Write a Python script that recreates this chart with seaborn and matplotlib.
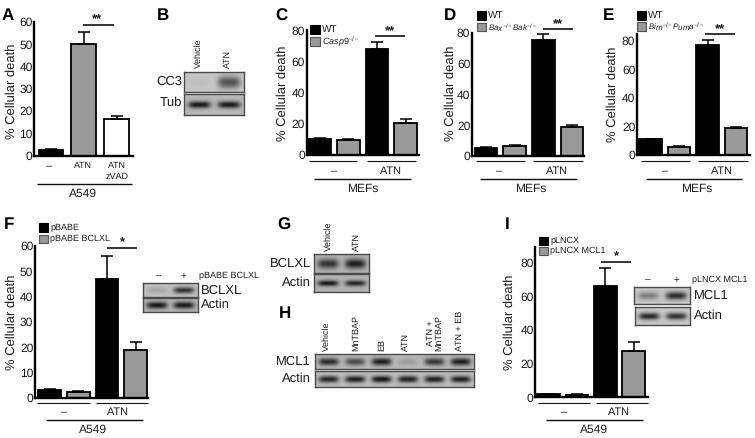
import numpy as np
import seaborn as sns
import matplotlib.pyplot as plt
from matplotlib.patches import Rectangle

sns.set_theme(style='white')
plt.rcParams['font.family'] = ['Liberation Sans', 'DejaVu Sans']
plt.rcParams['mathtext.fontset'] = 'custom'
plt.rcParams['mathtext.it'] = 'Liberation Sans:italic'
plt.rcParams['mathtext.rm'] = 'Liberation Sans'
plt.rcParams['text.hinting'] = 'none'
plt.rcParams['text.hinting_factor'] = 1

W, H = 755, 438
TXT = '#1c1c1c'
GRAY = '#999999'

# bar data
a_names = ['-', 'ATN', 'ATN zVAD']
a_vals = [2.5, 50, 16.5]
a_errs = [0.5, 5.5, 1.2]
four = ['ctrl', 'ctrl2', 'atn', 'atn2']
c_vals = [10, 9.5, 68, 20.5]
c_errs = [0.7, 1.0, 4.8, 2.5]
d_vals = [5, 6.5, 75.2, 18.5]
d_errs = [0.6, 0.8, 4.0, 1.6]
e_vals = [11, 5.5, 77, 19]
e_errs = [0.5, 0.7, 3.8, 0.4]
f_vals = [3, 2.2, 47, 19]
f_errs = [0.5, 0.5, 9, 3]
i_vals = [1.7, 1.3, 66, 27.5]
i_errs = [0.2, 0.4, 10.5, 5]

# blot band strengths per lane
b_cc3 = [0.03, 0.45]
b_tub = [0.62, 0.62]
f_bclxl = [0.1, 0.55]
f_actin = [0.6, 0.6]
g_bclxl = [0.5, 0.58]
g_actin = [0.6, 0.55]
h_mcl1 = [0.55, 0.42, 0.6, 0.1, 0.5, 0.6]
h_actin = [0.6, 0.62, 0.66, 0.62, 0.62, 0.62]
i_mcl1 = [0.28, 0.6]
i_actin = [0.62, 0.58]

fig = plt.figure(figsize=(W / 100, H / 100), dpi=100)
bg = fig.add_axes([0, 0, 1, 1])
bg.set_xlim(0, W)
bg.set_ylim(H, 0)
bg.axis('off')


def bars(vals, errs, names, colors, left, right, y0, ytop, ycal, calmax, ticks, first, step, frac):
    ax = fig.add_axes([left / W, 1 - y0 / H, (right - left) / W, (y0 - ytop) / H])
    ax.patch.set_alpha(0)
    sns.barplot(x=names, y=vals, hue=names, palette=colors, legend=False, width=frac,
                edgecolor='black', linewidth=1.3, errorbar=None, ax=ax)
    pos = np.arange(len(vals))
    ax.errorbar(pos, vals, yerr=[np.zeros(len(vals)), errs], fmt='none', ecolor='black',
                elinewidth=1.1, capsize=4.5, capthick=1.1, clip_on=False)
    ax.set_xlim((left - first) / step, (right - first) / step)
    ax.set_ylim(0, calmax * (y0 - ytop) / (y0 - ycal))
    ax.set_xticks([])
    ax.set_yticks(ticks)
    ax.tick_params(axis='y', length=0, pad=1, labelsize=8.7, labelcolor=TXT)
    ax.set_xlabel('')
    ax.set_ylabel('')
    sns.despine(ax=ax)
    for s in ['left', 'bottom']:
        ax.spines[s].set_linewidth(1.7)
        ax.spines[s].set_color('black')
    return ax


def blot(x0, y0, x1, y1, lanes, back=0.72, sig=0.2):
    ax = fig.add_axes([x0 / W, 1 - y1 / H, (x1 - x0) / W, (y1 - y0) / H])
    nx, ny = int(x1 - x0) * 2, int(y1 - y0) * 2
    xx, yy = np.meshgrid(np.linspace(0, 1, nx), np.linspace(0, 1, ny))
    img = np.full((ny, nx), float(back))
    n = len(lanes)
    for k, s in enumerate(lanes):
        cx = (k + 0.5) / n
        band = np.exp(-((xx - cx) / (0.38 / n)) ** 4) * np.exp(-((yy - 0.5) / sig) ** 2)
        img -= s * band
    sns.heatmap(img, cmap='gray', vmin=0, vmax=1, cbar=False, xticklabels=False,
                yticklabels=False, ax=ax, rasterized=True)
    for sp in ax.spines.values():
        sp.set_visible(True)
        sp.set_color('#4a4a4a')
        sp.set_linewidth(1)


def line(x0, x1, y, lw=1.0):
    bg.plot([x0, x1], [y, y], color='#111111', lw=lw, solid_capstyle='butt')


def txt(x, y, s, size=8.6, ha='center', va='center', **kw):
    bg.text(x, y, s, fontsize=size, ha=ha, va=va, color=TXT, **kw)


def legend(x0, x1, y_a, y_b, y_c, y_d, top, bottom, size=7, size2=6.2):
    bg.add_patch(Rectangle((x0, y_a), x1 - x0, y_b - y_a, fc='black', ec='black', lw=0.8))
    bg.add_patch(Rectangle((x0, y_c), x1 - x0, y_d - y_c, fc=GRAY, ec='#555555', lw=0.8))
    txt(x1 + 2, (y_a + y_b) / 2, top, size=size, ha='left')
    txt(x1 + 2, (y_c + y_d) / 2, bottom, size=size2, ha='left')


# panel A
bars(a_vals, a_errs, a_names, ['black', GRAY, 'white'], 34, 133, 155.5, 22, 22, 60,
     [0, 10, 20, 30, 40, 50, 60], 51, 32.8, 0.76)
# panel C
bars(c_vals, c_errs, four, ['black', GRAY, 'black', GRAY], 306.5, 419, 155, 30.5, 30.5, 80,
     [0, 20, 40, 60, 80], 319.5, 28.7, 0.79)
# panel D
bars(d_vals, d_errs, four, ['black', GRAY, 'black', GRAY], 471.7, 584, 155.7, 33, 33, 80,
     [0, 20, 40, 60, 80], 486, 28.7, 0.79)
# panel E
bars(e_vals, e_errs, four, ['black', GRAY, 'black', GRAY], 636.7, 750, 155, 34, 41, 80,
     [0, 20, 40, 60, 80], 650.5, 28.5, 0.79)
# panel F
bars(f_vals, f_errs, four, ['black', GRAY, 'black', GRAY], 34.7, 148, 398, 245.7, 245.7, 60,
     [0, 10, 20, 30, 40, 50, 60], 49.5, 28.7, 0.79)
# panel I
bars(i_vals, i_errs, four, ['black', GRAY, 'black', GRAY], 535, 648, 397.3, 246.7, 262.3, 80,
     [0, 20, 40, 60, 80], 548.5, 28.4, 0.79)

# y labels
for x, y in [(12, 91), (283, 93), (451, 93), (613, 94), (12, 322), (510, 322)]:
    txt(x, y, '% Cellular death', size=9.3, rotation=90)

# panel letters
for x, y, s in [(8, 16, 'A'), (163, 16, 'B'), (281, 16, 'C'), (450, 16, 'D'), (609, 16, 'E'),
                (9, 225, 'F'), (284, 225, 'G'), (285, 314, 'H'), (507, 225, 'I')]:
    bg.text(x, y, s, fontsize=12, fontweight='bold', ha='center', va='center', color='black')

# A annotations
txt(49, 166, '–', size=8)
txt(83, 166, 'ATN', size=6.8)
txt(117, 166, 'ATN', size=6.8)
txt(117, 176.5, 'zVAD', size=6.8)
line(37, 132, 183.7)
txt(83, 194, 'A549', size=8.4)
line(83, 114, 25, 1.2)
txt(97, 20, '**', size=9, fontweight='bold')

# C annotations
line(309, 357, 161.3, 0.8)
line(367, 416, 161.3, 0.8)
txt(334, 171, '–', size=8)
txt(391, 171, 'ATN', size=8)
line(314, 411, 178.7)
txt(363, 189, 'MEFs', size=8.6)
line(375, 405, 35.7, 1.2)
txt(390, 31.5, '**', size=9, fontweight='bold')
legend(310, 320, 25, 34, 37, 46, 'WT', r'$\mathit{Casp9}^{-/-}$', size2=6.4)

# D annotations
line(476, 525, 161.3, 0.8)
line(533, 583, 161.3, 0.8)
txt(499, 171, '–', size=8)
txt(557, 171, 'ATN', size=8)
line(480, 577, 179)
txt(531, 189, 'MEFs', size=8.6)
line(543, 573, 28.7, 1.2)
txt(558, 24.5, '**', size=9, fontweight='bold')
legend(477, 486, 11, 20, 23, 31, 'WT', r'$\mathit{Bax}^{-/-}\mathit{Bak}^{-/-}$', size2=5.8)

# E annotations
line(641, 690, 161.3, 0.8)
line(698, 748, 161.3, 0.8)
txt(665, 171, '–', size=8)
txt(722, 171, 'ATN', size=8)
line(646, 742, 179)
txt(697, 189, 'MEFs', size=8.6)
line(705, 735, 34, 1.2)
txt(720, 30, '**', size=9, fontweight='bold')
legend(637, 646, 11, 20, 22, 31, 'WT', r'$\mathit{Bim}^{-/-}\mathit{Puma}^{-/-}$', size2=5.8)

# F annotations
line(37, 90, 403, 0.8)
line(96, 148, 403, 0.8)
txt(64, 412, '–', size=8)
txt(118, 412, 'ATN', size=7.6)
line(46, 143, 420)
txt(93, 430, 'A549', size=8.4)
line(107, 137, 248, 1.2)
txt(122, 243, '*', size=9, fontweight='bold')
legend(39, 48, 223, 232, 235, 243, 'pBABE', 'pBABE BCLXL', size=6.4, size2=6.4)

# I annotations
line(538, 590, 403, 0.8)
line(596, 648, 403, 0.8)
txt(564, 412, '–', size=8)
txt(619, 412, 'ATN', size=7.6)
line(546, 643, 420)
txt(594, 430, 'A549', size=8.4)
line(601, 631, 262, 1.2)
txt(616, 257, '*', size=9, fontweight='bold')
legend(539, 548, 237, 245, 247, 255, 'pLNCX', 'pLNCX MCL1', size=6.4, size2=6.4)

# blot B
blot(184, 72, 244, 92, b_cc3, back=0.78, sig=0.32)
blot(184, 94, 244, 115, b_tub, back=0.72, sig=0.17)
txt(182, 82, 'CC3', ha='right', size=9)
txt(182, 103, 'Tub', ha='right', size=9)
txt(199, 68, 'Vehicle', size=6.4, rotation=90, va='bottom')
txt(228, 68, 'ATN', size=6.4, rotation=90, va='bottom')

# blot F inset
blot(143, 283, 198, 297, f_bclxl, back=0.75, sig=0.24)
blot(143, 298, 198, 312, f_actin, back=0.7, sig=0.26)
txt(201, 290.5, 'BCLXL', ha='left', size=9)
txt(201, 305, 'Actin', ha='left', size=9)
txt(159, 276, '–', size=7.5)
txt(183, 276, '+', size=7.5)
txt(199, 276, 'pBABE BCLXL', ha='left', size=6.2)

# blot G
blot(314, 254, 369, 273, g_bclxl, back=0.7, sig=0.26)
blot(314, 274, 369, 292, g_actin, back=0.7, sig=0.17)
txt(311, 264, 'BCLXL', ha='right', size=9)
txt(311, 283, 'Actin', ha='right', size=9)
txt(329, 251, 'Vehicle', size=6.6, rotation=90, va='bottom')
txt(357, 251, 'ATN', size=6.6, rotation=90, va='bottom')

# blot H
blot(315, 354, 474, 369, h_mcl1, back=0.72, sig=0.26)
blot(315, 371, 474, 387, h_actin, back=0.74, sig=0.22)
txt(311, 362, 'MCL1', ha='right', size=9)
txt(311, 379, 'Actin', ha='right', size=9)
for x, s in [(327, 'Vehicle'), (356, 'MnTBAP'), (382, 'EB'), (406, 'ATN'),
             (435, 'ATN +\nMnTBAP'), (460, 'ATN + EB')]:
    txt(x, 351, s, size=6.6, rotation=90, va='bottom', linespacing=0.9)

# blot I inset
blot(634, 287, 690, 304, i_mcl1, back=0.78, sig=0.24)
blot(635, 307, 690, 325, i_actin, back=0.78, sig=0.2)
txt(694, 296, 'MCL1', ha='left', size=9)
txt(694, 316, 'Actin', ha='left', size=9)
txt(648, 280, '–', size=7.5)
txt(676, 280, '+', size=7.5)
txt(692, 280, 'pLNCX MCL1', ha='left', size=6.2)

fig.savefig('out.png', dpi=100)
